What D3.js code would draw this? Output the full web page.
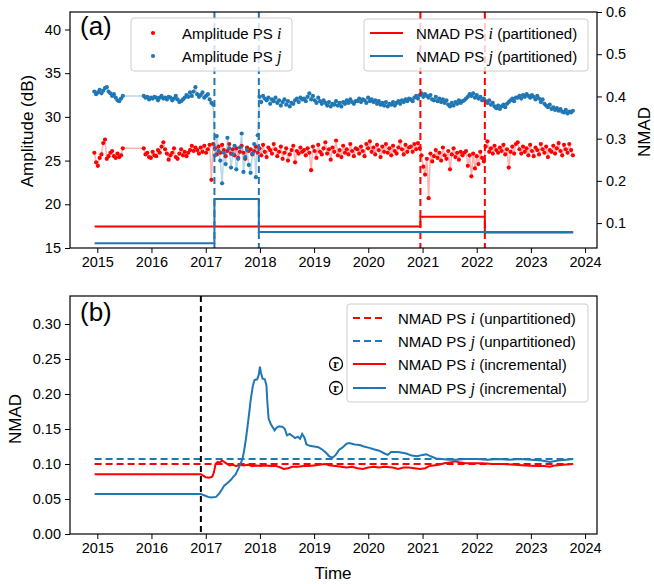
<!DOCTYPE html>
<html>
<head>
<meta charset="utf-8">
<script src="https://cdn.jsdelivr.net/npm/d3@7"></script>
<style>
  body { margin: 0; background: #fff; }
  svg text { font-family: "Liberation Sans", Arial, Helvetica, sans-serif; fill: #000; }
  .tick text { font-size: 14.5px; }
  .tick line { stroke: #000; stroke-width: 1; }
</style>
</head>
<body>
<svg id="chart" width="654" height="584"></svg>
<script>
// ---- data ----
const RED = '#ff0000'
const BLUE = '#1f77b4'

// acquisitions: first sparse run, then a regular 12-day run to the end
const acqStart1 = '2014-12-12'
const acqStart2 = '2015-11-10'
const revisitDays = 12

// amplitude (dB) of PS i, first run (Dec 2014 - Jun 2015)
const ampI1 = [25.9, 24.8, 24.4, 25.3, 25.7, 27.0, 27.4, 25.2, 25.5, 25.9, 26.1, 25.5, 25.3, 25.8, 25.4, 25.6, 26.4]
// amplitude (dB) of PS i, second run, one line ~ one year
const ampI2 = [
  26.4, 25.7, 25.9, 25.4, 25.3, 26.0, 25.6, 25.5, 26.2, 25.9, 26.6, 27.1, 26.3, 25.8, 25.1, 25.6, 25.9, 26.4, 25.4, 25.2, 25.8, 26.3, 25.6, 26.0, 25.5, 25.9, 26.2, 26.7, 26.1, 26.5,
  26.2, 25.8, 26.5, 26.0, 26.7, 25.9, 26.3, 26.8, 22.8, 26.9, 26.4, 25.7, 26.6, 25.9, 26.8, 26.2, 25.5, 26.1, 26.9, 25.8, 26.3, 25.6, 26.4, 25.3, 26.0, 26.7, 25.9, 25.2, 26.5, 26.1,
  26.3, 25.7, 26.1, 26.6, 25.9, 26.4, 25.6, 26.8, 26.0, 25.4, 26.5, 26.2, 25.8, 26.9, 26.3, 25.5, 26.0, 26.6, 25.2, 25.9, 26.4, 25.0, 25.7, 26.2, 26.7, 24.8, 26.1, 25.8, 26.5, 26.0,
  26.2, 25.6, 26.4, 25.9, 23.9, 26.6, 26.1, 25.3, 26.8, 26.0, 25.7, 26.4, 27.1, 25.8, 26.3, 25.1, 26.5, 26.0, 27.3, 25.6, 26.2, 25.4, 26.7, 25.9, 26.3, 25.7, 26.9, 26.1, 25.5, 26.4,
  26.3, 25.8, 26.6, 26.1, 25.5, 26.9, 26.4, 27.2, 26.0, 26.5, 25.7, 26.8, 26.2, 25.4, 26.6, 26.0, 26.9, 25.9, 26.4, 25.6, 26.7, 26.1, 25.8, 26.5, 27.2, 26.3, 25.7, 26.8, 26.0, 26.5,
  26.6, 26.0, 26.9, 26.3, 27.0, 26.4, 25.6, 24.3, 23.4, 25.2, 20.7, 25.8, 24.9, 25.5, 26.2, 25.3, 25.9, 25.0, 26.5, 25.6, 25.2, 26.1, 24.0, 25.7, 26.4, 25.4, 25.9, 25.1, 26.0, 25.6,
  25.9, 26.1, 24.4, 25.6, 23.2, 25.8, 24.1, 25.5, 24.6, 26.0, 25.3, 24.9, 26.6, 27.2, 26.0, 26.4, 25.8, 26.7, 26.2, 25.9, 26.5, 26.1, 26.8, 25.7, 26.3, 24.2, 26.0, 26.6, 25.8, 26.9,
  27.1, 26.3, 25.8, 26.6, 26.0, 26.4, 25.6, 26.8, 26.1, 25.5, 26.5, 26.2, 25.7, 26.9, 26.3, 25.9, 26.6, 25.4, 26.2, 26.0, 26.7, 25.8, 26.4, 27.0, 26.1, 25.6, 26.8, 26.3, 25.9, 26.9,
  26.2, 25.6
]

// amplitude (dB) of PS j
const ampJ1 = [32.9, 32.6, 32.8, 33.1, 32.7, 33.0, 33.3, 33.4, 32.9, 32.7, 32.4, 32.6, 32.2, 31.9, 31.8, 32.1, 32.4]
const ampJ2 = [
  32.4, 32.2, 32.3, 32.0, 32.2, 32.1, 32.3, 32.2, 31.9, 32.2, 32.4, 32.1, 32.2, 32.0, 32.3, 32.2, 31.9, 32.1, 32.4, 32.0, 31.7, 31.8, 32.0, 32.2, 32.5, 32.3, 32.8, 32.4, 32.9, 33.4,
  32.6, 32.3, 32.5, 32.8, 32.2, 32.4, 32.6, 32.0, 31.6, 31.4, 25.6, 27.8, 26.1, 25.0, 22.4, 25.9, 24.6, 27.6, 26.4, 24.2, 25.7, 26.7, 24.0, 25.2, 26.5, 28.1, 23.7, 25.4, 26.2, 24.5,
  23.6, 25.8, 26.9, 23.1, 27.9, 32.3, 31.7, 32.4, 32.1, 31.9, 32.2, 31.5, 32.0, 31.8, 32.2, 31.6, 31.9, 31.3, 31.7, 32.0, 31.4, 31.8, 31.2, 31.6, 31.5, 31.9, 32.1, 31.7, 32.2, 32.0,
  32.1, 31.8, 32.3, 32.7, 32.0, 32.4, 31.9, 31.6, 32.2, 31.8, 31.5, 31.9, 31.6, 31.3, 31.7, 31.2, 31.5, 31.4, 31.8, 31.3, 31.6, 31.2, 31.7, 31.5, 31.9, 31.6, 32.0, 31.7, 31.5, 31.8,
  31.8, 32.1, 31.7, 32.0, 31.9, 31.6, 32.2, 31.8, 32.0, 31.7, 31.9, 31.5, 31.8, 31.4, 31.6, 31.3, 31.7, 31.2, 31.5, 31.4, 31.7, 31.3, 31.6, 31.8, 31.5, 31.9, 31.7, 32.0, 31.8, 32.1,
  32.0, 31.8, 32.2, 32.4, 32.1, 32.5, 32.7, 32.3, 32.6, 32.4, 32.2, 32.5, 32.0, 31.9, 32.3, 31.8, 32.1, 31.7, 32.0, 31.6, 31.9, 31.4, 31.2, 31.6, 31.3, 31.7, 31.5, 31.9, 31.6, 31.8,
  31.9, 32.1, 32.3, 32.6, 32.4, 32.7, 32.2, 32.5, 32.1, 32.3, 31.9, 32.1, 31.8, 31.6, 31.9, 31.4, 31.6, 31.2, 31.0, 31.3, 30.9, 31.2, 31.4, 31.1, 31.5, 31.7, 31.9, 32.1, 31.8, 32.2,
  32.2, 32.4, 32.1, 32.5, 32.3, 32.6, 32.4, 32.2, 32.5, 32.3, 32.0, 32.4, 32.1, 31.7, 32.0, 31.5, 31.3, 31.1, 31.4, 30.9, 31.1, 30.8, 31.0, 30.7, 30.9, 30.6, 30.5, 30.8, 30.4, 30.6,
  30.5, 30.7
]

// partitioned NMAD: breakpoints (decimal years) and level per partition
const partBreaksI = [2014.95, 2020.96, 2022.15, 2023.78]
const partNmadI = [0.0917, 0.115, 0.0778]
const partBreaksJ = [2014.95, 2017.16, 2017.98, 2023.78]
const partNmadJ = [0.052, 0.157, 0.0788]

// unpartitioned NMAD
const unpartNmadI = 0.100
const unpartNmadJ = 0.107
const seriesSpan = [2014.95, 2023.78]
const incStart = 2016.91

// incremental NMAD [decimal year, value]
const incI = [
  [2014.95, 0.0855], [2016.91, 0.0855], [2016.96, 0.083], [2017.0, 0.081], [2017.06, 0.0805], [2017.12, 0.082],
  [2017.15, 0.088], [2017.18, 0.100], [2017.22, 0.103], [2017.26, 0.102], [2017.3, 0.105], [2017.34, 0.103],
  [2017.38, 0.101], [2017.44, 0.098], [2017.5, 0.099], [2017.56, 0.097], [2017.62, 0.099], [2017.7, 0.098],
  [2017.78, 0.099], [2017.86, 0.097], [2017.94, 0.098], [2018.02, 0.097], [2018.1, 0.098], [2018.2, 0.097],
  [2018.3, 0.097], [2018.38, 0.095], [2018.44, 0.093], [2018.52, 0.094], [2018.6, 0.096], [2018.7, 0.096],
  [2018.8, 0.097], [2018.9, 0.097], [2019.0, 0.098], [2019.1, 0.099], [2019.2, 0.100], [2019.3, 0.098],
  [2019.4, 0.097], [2019.5, 0.096], [2019.6, 0.095], [2019.7, 0.096], [2019.8, 0.094], [2019.9, 0.093],
  [2020.0, 0.095], [2020.1, 0.096], [2020.2, 0.095], [2020.3, 0.096], [2020.45, 0.095], [2020.55, 0.093],
  [2020.65, 0.095], [2020.75, 0.095], [2020.85, 0.094], [2020.95, 0.093], [2021.05, 0.094], [2021.12, 0.097],
  [2021.2, 0.098], [2021.3, 0.099], [2021.4, 0.101], [2021.5, 0.102], [2021.6, 0.104], [2021.7, 0.102],
  [2021.8, 0.101], [2021.95, 0.101], [2022.1, 0.101], [2022.3, 0.100], [2022.5, 0.100], [2022.7, 0.099],
  [2022.9, 0.098], [2023.1, 0.097], [2023.25, 0.097], [2023.35, 0.096], [2023.45, 0.098], [2023.6, 0.099],
  [2023.78, 0.100]
]
const incJ = [
  [2014.95, 0.057], [2016.91, 0.057], [2016.98, 0.055], [2017.04, 0.053], [2017.1, 0.052], [2017.19, 0.053],
  [2017.25, 0.058], [2017.3, 0.064], [2017.34, 0.069], [2017.4, 0.073], [2017.46, 0.077], [2017.5, 0.081],
  [2017.55, 0.085], [2017.6, 0.093], [2017.64, 0.100], [2017.68, 0.108], [2017.71, 0.120], [2017.74, 0.135],
  [2017.77, 0.153], [2017.8, 0.172], [2017.83, 0.192], [2017.87, 0.212], [2017.9, 0.220], [2017.95, 0.221],
  [2017.98, 0.228], [2018.0, 0.239], [2018.02, 0.230], [2018.05, 0.222], [2018.09, 0.221], [2018.12, 0.212],
  [2018.14, 0.185], [2018.16, 0.165], [2018.2, 0.157], [2018.24, 0.152], [2018.27, 0.148], [2018.31, 0.152],
  [2018.36, 0.154], [2018.42, 0.153], [2018.46, 0.150], [2018.5, 0.141], [2018.55, 0.143], [2018.6, 0.140],
  [2018.65, 0.137], [2018.7, 0.139], [2018.74, 0.136], [2018.78, 0.143], [2018.82, 0.138], [2018.86, 0.128],
  [2018.92, 0.126], [2019.0, 0.125], [2019.08, 0.124], [2019.16, 0.120], [2019.22, 0.116], [2019.28, 0.111],
  [2019.34, 0.109], [2019.4, 0.113], [2019.46, 0.120], [2019.53, 0.124], [2019.6, 0.129], [2019.65, 0.130],
  [2019.75, 0.128], [2019.84, 0.127], [2019.92, 0.125], [2020.02, 0.123], [2020.1, 0.121], [2020.2, 0.119],
  [2020.3, 0.115], [2020.36, 0.113], [2020.42, 0.117], [2020.55, 0.117], [2020.7, 0.115], [2020.8, 0.112],
  [2020.9, 0.111], [2021.0, 0.113], [2021.07, 0.114], [2021.15, 0.111], [2021.25, 0.108], [2021.35, 0.107],
  [2021.5, 0.106], [2021.62, 0.106], [2021.8, 0.107], [2022.0, 0.107], [2022.2, 0.106], [2022.4, 0.107],
  [2022.6, 0.106], [2022.8, 0.107], [2023.0, 0.106], [2023.2, 0.105], [2023.35, 0.103], [2023.5, 0.105],
  [2023.65, 0.106], [2023.78, 0.107]
]

const ampTicks = [15, 20, 25, 30, 35, 40]
const nmadTicksA = [0.1, 0.2, 0.3, 0.4, 0.5, 0.6]
const nmadTicksB = [0, 0.05, 0.1, 0.15, 0.2, 0.25, 0.3]

// ---- helpers ----
const yr = v => {
  const y0 = Math.floor(v)
  const a = Date.UTC(y0, 0, 1), b = Date.UTC(y0 + 1, 0, 1)
  return new Date(a + (v - y0) * (b - a))
}
const acqDates = (start, n) => d3.range(n).map(k => d3.utcDay.offset(new Date(start), k * revisitDays))

const ampI = [...ampI1, ...ampI2]
const ampJ = [...ampJ1, ...ampJ2]
const dates = [...acqDates(acqStart1, ampI1.length), ...acqDates(acqStart2, ampI2.length)]
const scatterI = dates.map((d, k) => ({ t: d, v: ampI[k] }))
const scatterJ = dates.map((d, k) => ({ t: d, v: ampJ[k] }))

const stepPoints = (breaks, vals) => vals.flatMap((v, k) => [{ t: yr(breaks[k]), v }, { t: yr(breaks[k + 1]), v }])

// ---- layout ----
const L = 70, R = 597
const aTop = 12, aBot = 248, bTop = 296, bBot = 534

const svg = d3.select('#chart')

const x = d3.scaleUtc().domain([yr(2014.496), yr(2024.22)]).range([L, R])
const yA = d3.scaleLinear().domain([15, 42]).range([aBot, aTop])
const yN = d3.scaleLinear().domain([0.041, 0.6]).range([aBot, aTop])
const yB = d3.scaleLinear().domain([0, 0.34]).range([bBot, bTop])

const xAxis = d3.axisBottom(x).ticks(d3.utcYear.every(1)).tickFormat(d3.utcFormat('%Y')).tickSize(5).tickPadding(4)

// ================= panel (a) =================
const gA = svg.append('g')

const lineA = d3.line().x(d => x(d.t)).y(d => yA(d.v))

const drawScatter = (data, color) => {
  gA.append('path')
    .datum(data)
    .attr('d', lineA)
    .attr('fill', 'none')
    .attr('stroke', color)
    .attr('stroke-opacity', 0.3)
    .attr('stroke-width', 1.5)
  gA.append('g')
    .selectAll('circle')
    .data(data)
    .enter()
    .append('circle')
    .attr('cx', d => x(d.t))
    .attr('cy', d => yA(d.v))
    .attr('r', 2.1)
    .attr('fill', color)
}
drawScatter(scatterI, RED)
drawScatter(scatterJ, BLUE)

// change points
const vlineA = (year, color) => gA.append('line')
  .attr('x1', x(yr(year))).attr('x2', x(yr(year)))
  .attr('y1', aTop).attr('y2', aBot)
  .attr('stroke', color).attr('stroke-width', 2).attr('stroke-dasharray', '7,4')
vlineA(partBreaksJ[1], BLUE)
vlineA(partBreaksJ[2], BLUE)
vlineA(partBreaksI[1], RED)
vlineA(partBreaksI[2], RED)

// partitioned NMAD (right axis)
const lineN = d3.line().x(d => x(d.t)).y(d => yN(d.v))
gA.append('path').datum(stepPoints(partBreaksI, partNmadI)).attr('d', lineN)
  .attr('fill', 'none').attr('stroke', RED).attr('stroke-width', 2)
gA.append('path').datum(stepPoints(partBreaksJ, partNmadJ)).attr('d', lineN)
  .attr('fill', 'none').attr('stroke', BLUE).attr('stroke-width', 2)

// axes
svg.append('g').attr('transform', `translate(0,${aBot})`).call(xAxis).call(g => g.select('.domain').remove())
svg.append('g').attr('transform', `translate(${L},0)`)
  .call(d3.axisLeft(yA).tickValues(ampTicks).tickSize(5).tickPadding(4))
  .call(g => g.select('.domain').remove())
svg.append('g').attr('transform', `translate(${R},0)`)
  .call(d3.axisRight(yN).tickValues(nmadTicksA).tickFormat(d3.format('.1f')).tickSize(5).tickPadding(4))
  .call(g => g.select('.domain').remove())
svg.append('rect').attr('x', L).attr('y', aTop).attr('width', R - L).attr('height', aBot - aTop)
  .attr('fill', 'none').attr('stroke', '#000').attr('stroke-width', 1.2)

svg.append('text').attr('transform', 'translate(27,131) rotate(-90)')
  .attr('text-anchor', 'middle').attr('dominant-baseline', 'central')
  .style('font-size', '17px').text('Amplitude (dB)')
svg.append('text').attr('transform', 'translate(644,132) rotate(-90)')
  .attr('text-anchor', 'middle').attr('dominant-baseline', 'central')
  .style('font-size', '17px').text('NMAD')
svg.append('text').attr('x', 80).attr('y', 35).style('font-size', '26px').text('(a)')

// ================= panel (b) =================
const gB = svg.append('g')
const lineB = d3.line().x(d => x(yr(d[0]))).y(d => yB(d[1]))

gB.append('path').datum([[seriesSpan[0], unpartNmadI], [seriesSpan[1], unpartNmadI]]).attr('d', lineB)
  .attr('fill', 'none').attr('stroke', RED).attr('stroke-width', 2).attr('stroke-dasharray', '7,4')
gB.append('path').datum([[seriesSpan[0], unpartNmadJ], [seriesSpan[1], unpartNmadJ]]).attr('d', lineB)
  .attr('fill', 'none').attr('stroke', BLUE).attr('stroke-width', 2).attr('stroke-dasharray', '7,4')
gB.append('path').datum(incI).attr('d', lineB)
  .attr('fill', 'none').attr('stroke', RED).attr('stroke-width', 2)
gB.append('path').datum(incJ).attr('d', lineB)
  .attr('fill', 'none').attr('stroke', BLUE).attr('stroke-width', 2)
gB.append('line')
  .attr('x1', x(yr(incStart))).attr('x2', x(yr(incStart)))
  .attr('y1', bTop).attr('y2', bBot)
  .attr('stroke', '#000').attr('stroke-width', 2).attr('stroke-dasharray', '6,4')

svg.append('g').attr('transform', `translate(0,${bBot})`).call(xAxis).call(g => g.select('.domain').remove())
svg.append('g').attr('transform', `translate(${L},0)`)
  .call(d3.axisLeft(yB).tickValues(nmadTicksB).tickFormat(d3.format('.2f')).tickSize(5).tickPadding(4))
  .call(g => g.select('.domain').remove())
svg.append('rect').attr('x', L).attr('y', bTop).attr('width', R - L).attr('height', bBot - bTop)
  .attr('fill', 'none').attr('stroke', '#000').attr('stroke-width', 1.2)

svg.append('text').attr('transform', 'translate(15,419) rotate(-90)')
  .attr('text-anchor', 'middle').attr('dominant-baseline', 'central')
  .style('font-size', '17px').text('NMAD')
svg.append('text').attr('x', 333).attr('y', 579).attr('text-anchor', 'middle')
  .style('font-size', '17px').text('Time')
svg.append('text').attr('x', 80).attr('y', 321).style('font-size', '26px').text('(b)')

// ================= legends =================
const legendBox = (x0, y0, w, h) => svg.append('rect')
  .attr('x', x0).attr('y', y0).attr('width', w).attr('height', h).attr('rx', 3)
  .attr('fill', '#fff').attr('fill-opacity', 0.8).attr('stroke', '#cccccc').attr('stroke-width', 1)

const legendLabel = (tx, ty, pre, sym, post) => {
  const t = svg.append('text').attr('x', tx).attr('y', ty + 5.5).style('font-size', '15px')
  t.append('tspan').text(pre)
  t.append('tspan').style('font-family', '"Liberation Serif", "DejaVu Serif", serif').style('font-style', 'italic').style('font-size', '16px').text(sym)
  if (post) t.append('tspan').text(post)
}

// (a) amplitude legend
legendBox(131, 18, 161, 53)
;[[RED, 'i', 33], [BLUE, 'j', 56]].forEach(([c, s, yy]) => {
  svg.append('circle').attr('cx', 153).attr('cy', yy).attr('r', 2.1).attr('fill', c)
  legendLabel(182, yy, 'Amplitude PS ', s)
})

// (a) partitioned legend
legendBox(364, 19, 224, 52)
;[[RED, 'i', 33], [BLUE, 'j', 56]].forEach(([c, s, yy]) => {
  svg.append('line').attr('x1', 370).attr('x2', 403).attr('y1', yy).attr('y2', yy).attr('stroke', c).attr('stroke-width', 2)
  legendLabel(416, yy, 'NMAD PS ', s, ' (partitioned)')
})

// (b) legend
legendBox(347, 304, 241, 98)
;[[RED, 'i', 318, true, ' (unpartitioned)'], [BLUE, 'j', 341, true, ' (unpartitioned)'],
  [RED, 'i', 364, false, ' (incremental)'], [BLUE, 'j', 388, false, ' (incremental)']].forEach(([c, s, yy, dashed, post]) => {
  svg.append('line').attr('x1', 353).attr('x2', 386).attr('y1', yy).attr('y2', yy)
    .attr('stroke', c).attr('stroke-width', 2).attr('stroke-dasharray', dashed ? '7,4' : null)
  legendLabel(398, yy, 'NMAD PS ', s, post)
  if (!dashed) {
    svg.append('circle').attr('cx', 336).attr('cy', yy).attr('r', 6.5)
      .attr('fill', '#fff').attr('stroke', '#000').attr('stroke-width', 1.3)
    svg.append('text').attr('x', 336).attr('y', yy + 3.8).attr('text-anchor', 'middle')
      .style('font-family', '"Liberation Serif", "DejaVu Serif", serif').style('font-weight', 'bold').style('font-size', '12px').text('r')
  }
})
</script>
</body>
</html>
